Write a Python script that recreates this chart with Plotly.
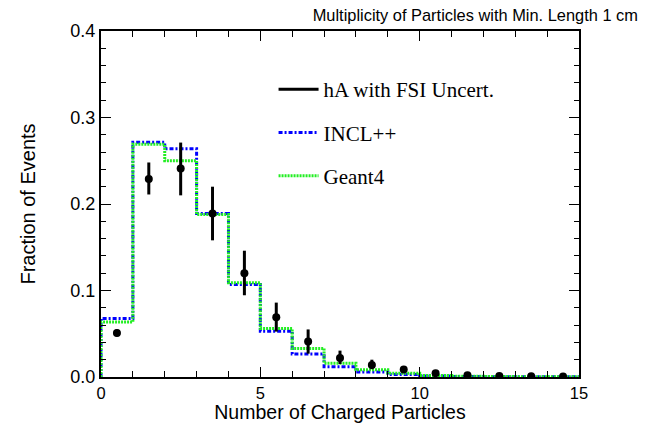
import numpy as np
import plotly.graph_objects as go

# Bin edges of the multiplicity histogram (0..15 charged particles)
bin_edges = list(range(16))
bin_centers = [e + 0.5 for e in bin_edges[:-1]]

# hA with FSI uncertainty (points with asymmetric errors)
ha_values = [0.051, 0.229, 0.241, 0.189, 0.120, 0.069, 0.041, 0.022, 0.014,
             0.0087, 0.0044, 0.0021, 0.0012, 0.0010, 0.0006]
ha_err_up = [0.004, 0.019, 0.030, 0.031, 0.026, 0.017, 0.014, 0.0085, 0.006,
             0.003, 0.002, 0.001, 0.001, 0.001, 0.001]
ha_err_down = [0.004, 0.018, 0.031, 0.031, 0.0255, 0.0165, 0.014, 0.007, 0.005,
               0.003, 0.002, 0.001, 0.001, 0.001, 0.001]

# INCL++ and Geant4 predictions (bin contents)
incl_values = [0.0675, 0.2715, 0.2638, 0.189, 0.107, 0.053, 0.0267, 0.0118,
               0.0058, 0.0028, 0.0012, 0.0006, 0.0004, 0.0003, 0.0002]
geant_values = [0.0635, 0.269, 0.250, 0.188, 0.109, 0.056, 0.033, 0.016,
                0.0085, 0.0042, 0.0016, 0.0008, 0.0005, 0.0004, 0.0003]

y_ticks = [0.0, 0.1, 0.2, 0.3, 0.4]
x_ticks = [0, 5, 10, 15]

SANS = "Liberation Sans, Arial, Helvetica, sans-serif"
SERIF = "Liberation Serif, Times New Roman, serif"


def step_xy(edges, values):
    """Outline of a histogram drawn as a step line, starting from zero."""
    xs = [edges[0]] + list(edges[:-1]) + [edges[-1]]
    ys = [0.0] + list(values) + [values[-1]]
    return xs, ys


fig = go.Figure()

xs, ys = step_xy(bin_edges, incl_values)
fig.add_trace(go.Scatter(
    x=xs, y=ys, mode="lines", line_shape="hv", name="INCL++",
    line=dict(color="#0000ff", width=3, dash="4px,2px,2px,2px"),
    legendgroup="b", legendrank=2,
))

xs, ys = step_xy(bin_edges, geant_values)
fig.add_trace(go.Scatter(
    x=xs, y=ys, mode="lines", line_shape="hv", name="Geant4",
    line=dict(color="#22ee22", width=3, dash="2px,1px"),
    legendgroup="c", legendrank=3,
))

fig.add_trace(go.Scatter(
    x=bin_centers, y=ha_values, mode="markers", showlegend=False,
    marker=dict(color="black", size=8, symbol="circle"),
    error_y=dict(type="data", symmetric=False, array=ha_err_up,
                 arrayminus=ha_err_down, color="black", thickness=3, width=0),
))

# Legend entry for the data points, drawn as a solid line
fig.add_trace(go.Scatter(
    x=[None], y=[None], mode="lines", name="hA with FSI Uncert.",
    line=dict(color="black", width=3),
    legendgroup="a", legendrank=1,
))

axis_common = dict(
    showline=True, linecolor="black", linewidth=2, mirror="ticks",
    ticks="inside", tickcolor="black", tickwidth=1, ticklen=10,
    showgrid=False, zeroline=False, automargin=False,
)

fig.update_xaxes(
    range=[0, 15], tickvals=x_ticks, ticktext=[str(v) for v in x_ticks],
    ticklabelstandoff=0,
    tickfont=dict(family=SANS, size=16.5, color="black"),
    minor=dict(ticks="inside", dtick=1, ticklen=6, tickcolor="black", tickwidth=1),
    title=dict(text="Number of Charged Particles", standoff=7,
               font=dict(family=SANS, size=19.5, color="black")),
    **axis_common,
)
fig.update_yaxes(
    range=[0, 0.4], tickvals=y_ticks, ticktext=[f"{v:.1f}" for v in y_ticks],
    tickfont=dict(family=SANS, size=18, color="black"),
    minor=dict(ticks="inside", dtick=0.02, ticklen=5, tickcolor="black", tickwidth=1),
    title=dict(text="Fraction of Events", standoff=29,
               font=dict(family=SANS, size=20, color="black")),
    **axis_common,
)

fig.update_layout(
    width=659, height=423,
    margin=dict(l=101, r=80, t=31, b=46),
    paper_bgcolor="white", plot_bgcolor="white",
    title=dict(text="Multiplicity of Particles with Min. Length 1 cm",
               xref="container", x=0.968, xanchor="right",
               yref="container", y=0.965, yanchor="middle",
               font=dict(family=SANS, size=16.4, color="black")),
    legend=dict(
        x=0.361, y=0.89, xanchor="left", yanchor="top",
        bgcolor="rgba(0,0,0,0)", borderwidth=0,
        font=dict(family=SERIF, size=21, color="black"),
        traceorder="grouped", tracegroupgap=13,
        itemwidth=40,
    ),
)

fig.write_html("out.html")
